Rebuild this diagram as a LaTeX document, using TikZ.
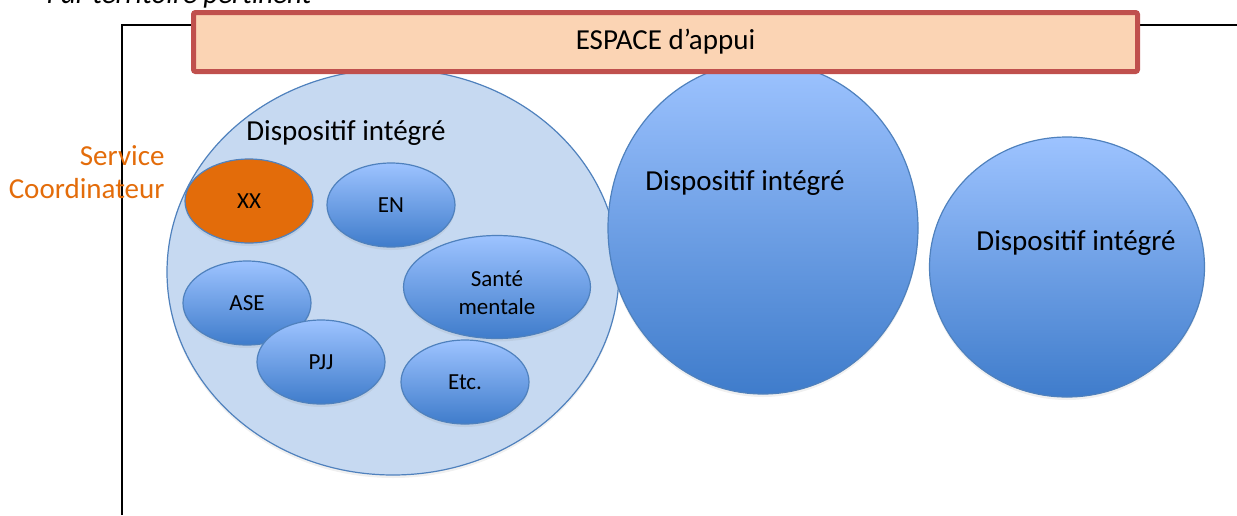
\documentclass[tikz,border=0pt]{standalone}
\usepackage{fontspec}
\setmainfont{Carlito}
\usepackage{xcolor}
\usetikzlibrary{shapes.geometric,shadows}

\definecolor{espacefill}{HTML}{FBD4B4}
\definecolor{espaceline}{HTML}{C0504D}
\definecolor{dispfill}{HTML}{C6D9F1}
\definecolor{displine}{HTML}{4F81BD}
\definecolor{bluetop}{HTML}{9DC3FF}
\definecolor{bluebottom}{HTML}{3F7CCB}
\definecolor{coordorange}{HTML}{E36C0A}

\begin{document}
\begin{tikzpicture}[x=1pt, y=-1pt,
    bigfont/.style={font=\fontsize{29}{33}\selectfont},
    smallfont/.style={font=\fontsize{23}{28}\selectfont},
    bubble/.style={ellipse, draw=displine, line width=1.2pt, inner sep=0pt,
        top color=bluetop, bottom color=bluebottom,
        drop shadow={opacity=0.12, shadow xshift=0pt, shadow yshift=-3pt}},
    partner/.style={bubble, smallfont, minimum width=128pt, minimum height=84pt}]
        \clip (0,0) rectangle (1237,515);

        % Title (cut at the top)
        \node[bigfont, font=\fontsize{29}{33}\selectfont\itshape, anchor=base west] (title) at (43, 3) {Par territoire pertinent};

        % Frame
        \coordinate (framebottom) at (122, 515);
        \coordinate (framecorner) at (122, 25);
        \coordinate (frameright) at (1237, 25);
        \draw[line width=1.3pt] (framebottom) -- (framecorner) -- (frameright);

        % First integrated system
        \node[ellipse, draw=displine, fill=dispfill, line width=1.2pt, inner sep=0pt,
            minimum width=452pt, minimum height=406pt,
            drop shadow={opacity=0.12, shadow xshift=0pt, shadow yshift=-3pt}] (disp1) at (393, 272) {};
        \node[bigfont] (disp1txt) at (346, 133) {Dispositif intégré};

        % Partners
        \node[partner, fill=coordorange, top color=coordorange, bottom color=coordorange] (xx) at (249, 201) {XX};
        \node[partner] (en) at (391, 205) {EN};
        \node[partner] (ase) at (247, 303) {ASE};
        \node[partner] (pjj) at (321, 362) {PJJ};
        \node[partner, minimum width=187pt, minimum height=103pt] (sante) at (497, 287) {};
        \node[smallfont, align=center] (santetxt) at (497, 293) {Santé\\mentale};
        \node[partner] (etc) at (465, 382) {Etc.};

        % Coordinating service
        \node[bigfont, text=coordorange, align=right, anchor=east] (coord) at (168, 172) {Service\\Coordinateur};

        % Other integrated systems
        \node[bubble, minimum width=310pt, minimum height=332pt] (disp2) at (763, 228) {};
        \node[bigfont] (disp2txt) at (745, 183) {Dispositif intégré};
        \node[bubble, minimum width=275pt, minimum height=260pt] (disp3) at (1067, 267) {};
        \node[bigfont] (disp3txt) at (1076, 243) {Dispositif intégré};

        % Support space
        \node[draw=espaceline, fill=espacefill, line width=5pt, rounded corners=2pt,
            minimum width=944pt, minimum height=59pt, bigfont] (espace) at (665.5, 42) {ESPACE d’appui};
    \end{tikzpicture}
\end{document}
